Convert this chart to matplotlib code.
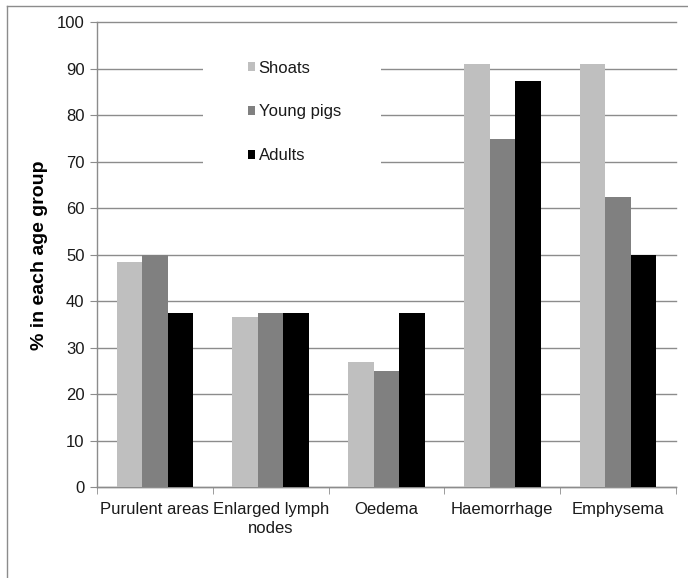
import numpy as np
import matplotlib.pyplot as plt
import matplotlib.transforms as mtransforms
from matplotlib.lines import Line2D
from matplotlib.patches import Rectangle

categories = ['Purulent areas', 'Enlarged lymph\nnodes', 'Oedema', 'Haemorrhage', 'Emphysema']
shoats = [48.5, 36.5, 27.0, 91.0, 91.0]
young_pigs = [50.0, 37.5, 25.0, 75.0, 62.5]
adults = [37.5, 37.5, 37.5, 87.5, 50.0]

series = [('Shoats', shoats, '#bfbfbf'),
          ('Young pigs', young_pigs, '#808080'),
          ('Adults', adults, '#000000')]

plt.rcParams['font.family'] = ['Liberation Sans Narrow', 'Liberation Sans', 'DejaVu Sans']

W, H = 688, 578
fig = plt.figure(figsize=(W / 100, H / 100), dpi=100)
ax = fig.add_axes([97 / W, 1 - 487 / H, (676 - 97) / W, (487 - 22.5) / H])

x = np.arange(len(categories))
width = 0.22
for i, (name, vals, col) in enumerate(series):
    ax.bar(x + (i - 1) * width, vals, width, color=col, label=name, zorder=3)

grid_col = '#8c8c8c'
ax.set_ylim(0, 100)
ax.set_xlim(-0.5, len(categories) - 0.5)
ax.set_yticks(np.arange(0, 101, 10))
ax.yaxis.grid(True, color=grid_col, linewidth=1)
for gl in ax.get_ygridlines():
    gl.set_clip_on(False)
ax.set_axisbelow(True)

ax.set_xticks(x)
ax.set_xticklabels(categories, fontsize=12, color='#1a1a1a', linespacing=1.3)
ax.set_xticks(np.arange(-0.5, len(categories)), minor=True)
ax.tick_params(axis='x', which='major', length=0, pad=11)
ax.tick_params(axis='x', which='minor', length=5, color=grid_col, direction='out')
ax.tick_params(axis='y', length=5, color=grid_col, labelsize=12, labelcolor='#1a1a1a', pad=4)

for side in ('top', 'right'):
    ax.spines[side].set_visible(False)
for side in ('left', 'bottom'):
    ax.spines[side].set_color(grid_col)
    ax.spines[side].set_linewidth(1)

ax.set_ylabel('% in each age group', fontsize=14, fontweight='bold',
              family=['Liberation Sans', 'DejaVu Sans'], labelpad=6)

# white block behind the legend entries hides the gridlines there
def to_ax(px):
    return (px - 97) / (676 - 97)

blend = mtransforms.blended_transform_factory(ax.transAxes, ax.transData)
ax.add_patch(Rectangle((to_ax(203), 63), to_ax(381) - to_ax(203), 33,
                       transform=blend, facecolor='white', edgecolor='none', zorder=2))

leg = ax.legend(loc='center left', bbox_to_anchor=(to_ax(247.7), (487 - 112) / (487 - 22.5)),
                fontsize=12, frameon=False, handlelength=0.45, handleheight=0.45,
                handletextpad=0.2, labelspacing=1.73, borderpad=0, borderaxespad=0)
for t in leg.get_texts():
    t.set_color('#1a1a1a')

# outer chart border (top and left edges)
fig.add_artist(Line2D([7 / W, 1.0], [1 - 6 / H, 1 - 6 / H], color=grid_col, lw=1))
fig.add_artist(Line2D([7 / W, 7 / W], [0.0, 1 - 6 / H], color=grid_col, lw=1))

fig.savefig('out.png', dpi=100, facecolor='white')
